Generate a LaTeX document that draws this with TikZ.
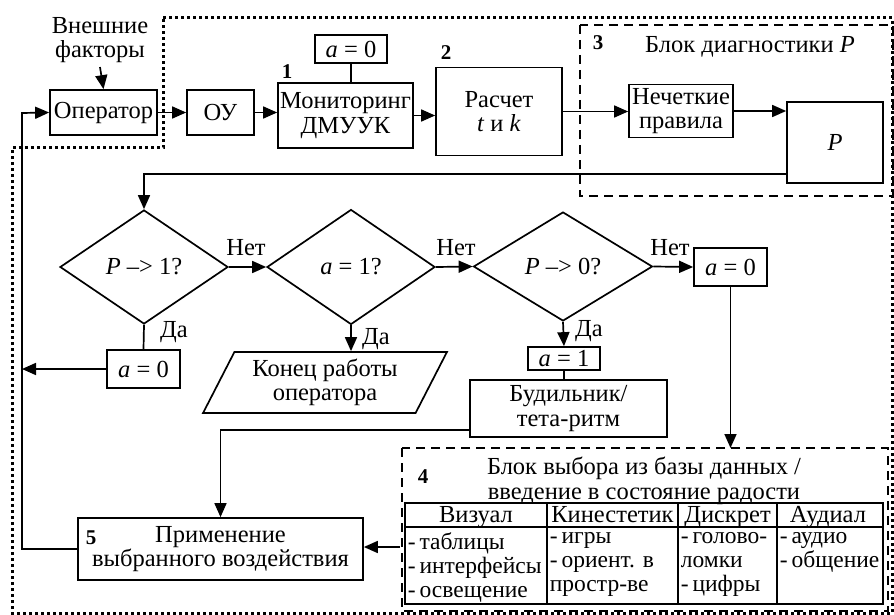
\documentclass[tikz,border=0pt]{standalone}
\usepackage{fontspec}
\setmainfont{Liberation Serif}
\usetikzlibrary{shapes.geometric, arrows.meta, positioning, calc}

\begin{document}
\begin{tikzpicture}[x=1pt,y=-1pt,line width=1.7pt,
    font=\fontsize{24.5}{24.5}\selectfont,
    box/.style={draw,inner sep=0pt,align=center},
    dec/.style={draw,diamond,inner sep=0pt,aspect=1.5},
    arr/.style={-{Triangle[length=14pt,width=12pt]}},
    num/.style={font=\fontsize{21}{22}\selectfont\bfseries},
    head/.style={inner sep=0pt,anchor=base},
    cell/.style={align=left,anchor=north west,inner sep=0pt,font=\fontsize{23.5}{24}\selectfont},
    dblock/.style={line width=2pt,dash pattern=on 9pt off 6pt},
    outer/.style={line width=3pt,dash pattern=on 3pt off 3pt}]

\useasboundingbox (0,0) rectangle (894,615);

\draw[outer] (163,18) -- (892,18) -- (892,613) -- (12,613) -- (12,148) -- (163,148) -- cycle;
\draw[dblock] (580,25) rectangle (893,196);
\draw[dblock] (402,448) rectangle (888,611);
\coordinate (b4top) at (731,448);
\coordinate (b4left) at (400,547);

\node[align=center] (ext) at (100,40) {Внешние\\факторы};
\node[box,minimum width=107pt,minimum height=45pt] (opr) at (103.5,112.5) {Оператор};
\node[box,minimum width=67pt,minimum height=45pt] (ou) at (220.5,112.5) {ОУ};
\node[box,minimum width=135pt,minimum height=65pt] (mon) at (345.5,115.5) {Мониторинг\\ДМУУК};
\node[box,minimum width=72pt,minimum height=28pt] (atop) at (351,49) {\textit{a} = 0};
\node[box,minimum width=126pt,minimum height=88pt] (calc) at (499,111.5) {Расчет\\\textit{t} и \textit{k}};
\node[box,minimum width=104pt,minimum height=53pt] (rules) at (681,111) {Нечеткие\\правила};
\node[box,minimum width=96pt,minimum height=81pt] (pbox) at (835,142.5) {\textit{P}};
\node[num] (n1) at (287,72) {1};
\node[num] (n2) at (446,53) {2};
\node[num] (n3) at (598,43) {3};
\node (diag) at (750,47) {Блок диагностики \textit{P}};

\node[dec,minimum width=168pt,minimum height=114pt] (d1) at (144,267) {\textit{P} --> 1?};
\node[dec,minimum width=168pt,minimum height=115pt] (d2) at (351,267) {\textit{a} = 1?};
\node[dec,minimum width=179pt,minimum height=109pt] (d3) at (563,266.5) {\textit{P} --> 0?};
\node (no1) at (246,248) {Нет};
\node (no2) at (456,248) {Нет};
\node (no3) at (670,248) {Нет};
\node (yes1) at (174,332) {Да};
\node (yes2) at (376,339) {Да};
\node (yes3) at (589,331) {Да};

\node[box,minimum width=73pt,minimum height=38pt] (aleft) at (143.5,369) {\textit{a} = 0};
\node[draw,trapezium,trapezium left angle=62,trapezium right angle=118,trapezium stretches=true,
    minimum width=244pt,minimum height=61pt,inner sep=0pt,align=center] (endop) at (325,382.5) {Конец работы\\оператора};
\node[box,minimum width=73pt,minimum height=38pt] (aright) at (730.5,267) {\textit{a} = 0};
\node[box,minimum width=72pt,minimum height=23pt] (aone) at (564,358.5) {\textit{a} = 1};
\node[box,minimum width=197pt,minimum height=57pt] (alarm) at (568.5,408.5) {Будильник/\\тета-ритм};
\node[box,minimum width=285pt,minimum height=62pt] (apply) at (220.5,549) {Применение\\выбранного воздействия};
\node[num] (n5) at (91,538) {5};

\node[num] (n4) at (423,477) {4};
\node[align=center,inner sep=0pt] (dbase) at (644,481) {Блок выбора из базы данных /\\введение в состояние радости};
\draw (405,503) rectangle (883,604);
\draw (405,527) -- (883,527);
\foreach \x in {547,678,777} \draw (\x,503) -- (\x,604);
\node[head] (c1) at (476,522) {Визуал};
\node[head] (c2) at (612.5,522) {Кинестетик};
\node[head] (c3) at (727.5,522) {Дискрет};
\node[head] (c4) at (828,522) {Аудиал};
\node[cell] (t1) at (407,532) {-\,таблицы\\-\,интерфейсы\\-\,освещение};
\node[cell] (t2) at (549,532) {-\,игры\\-\,ориент. в\\простр-ве};
\node[cell] (t3) at (680,532) {-\,голово-\\ломки\\-\,цифры};
\node[cell] (t4) at (779,532) {-\,аудио\\-\,общение};

\coordinate (fb) at (22,369);
\draw[arr] (ext.south) -- (opr.north);
\draw[arr] (opr.east) -- (ou.west);
\draw[arr] (ou.east) -- (ou.east -| mon.west);
\draw (atop.south) -- (atop.south |- mon.north);
\draw[arr] (mon.east) -- (mon.east -| calc.west);
\draw[arr] (calc.east) -- (calc.east -| rules.west);
\draw[arr] (rules.east) -- (rules.east -| pbox.west);
\draw[arr] (pbox.west |- 0,174) -| (d1.north);
\draw[arr] (d1.east) -- (d2.west);
\draw[arr] (d2.east) -- (d3.west);
\draw[arr] (d3.east) -- (aright.west);
\draw (d1.south) -- (aleft.north);
\draw[arr] (aleft.west) -- (fb);
\draw[arr] (d2.south) -- (d2.south |- endop.north);
\draw[arr] (d3.south) -- (aone.north);
\draw (aone.south) -- (aone.south |- alarm.north);
\draw[arr] (aright.south) -- (aright.south |- b4top);
\draw[arr] (alarm.west |- 0,430) -| (apply.north);
\draw[arr] (b4left) -- (b4left -| apply.east);
\draw[arr] (apply.west) -| (22,113) -- (opr.west);
\end{tikzpicture}
\end{document}
